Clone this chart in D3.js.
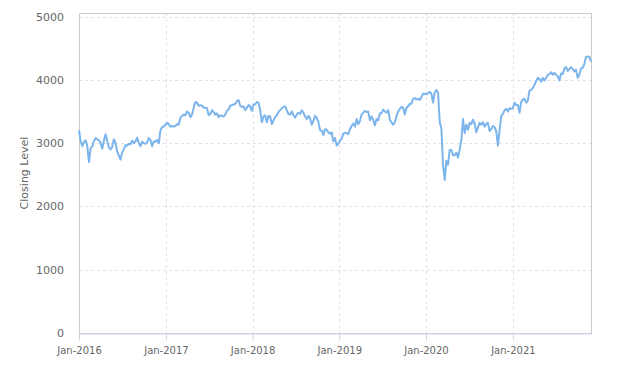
<!DOCTYPE html>
<html>
<head>
<meta charset="utf-8">
<script src="https://cdn.jsdelivr.net/npm/d3@7"></script>
<style>
  body { margin: 0; background: #fff; }
  svg text { font-family: "DejaVu Sans", sans-serif; }
</style>
</head>
<body>
<svg id="chart" width="631" height="366"></svg>
<script>
// weekly closes (Fridays)
const close2016 = [3200, 3030, 2950, 3020, 3045, 2950, 2700, 2920, 2950, 3030, 3080, 3060, 3045,
  3000, 2910, 3040, 3140, 3030, 2930, 2900, 2940, 3060, 3000, 2860, 2800, 2740, 2860, 2900, 2970,
  2960, 2990, 2980, 3040, 3000, 3030, 3085, 3000, 2950, 3020, 3000, 2990, 3010, 3080, 3050, 2950,
  3030, 3020, 3050, 3000, 3200, 3250, 3260, 3290];
const close2017 = [3320, 3300, 3260, 3270, 3260, 3270, 3300, 3290, 3400, 3430, 3450, 3440, 3500,
  3480, 3410, 3450, 3560, 3650, 3640, 3590, 3600, 3590, 3560, 3560, 3550, 3440, 3460, 3520, 3490,
  3450, 3470, 3410, 3440, 3430, 3420, 3450, 3510, 3530, 3590, 3600, 3610, 3620, 3660, 3680, 3590,
  3570, 3580, 3520, 3560, 3600, 3580, 3510];
const close2018 = [3610, 3610, 3650, 3640, 3520, 3330, 3420, 3440, 3330, 3430, 3420, 3300, 3360,
  3410, 3440, 3490, 3520, 3550, 3570, 3580, 3520, 3460, 3450, 3500, 3440, 3400, 3450, 3480, 3460,
  3520, 3480, 3420, 3380, 3430, 3390, 3290, 3350, 3430, 3400, 3340, 3200, 3200, 3130, 3220, 3210,
  3170, 3150, 3170, 3030, 3080, 2960, 2990];
const close2019 = [3040, 3070, 3150, 3160, 3160, 3140, 3220, 3270, 3310, 3260, 3380, 3300, 3350,
  3450, 3480, 3510, 3490, 3500, 3360, 3420, 3370, 3280, 3380, 3360, 3470, 3470, 3530, 3500, 3480,
  3520, 3370, 3330, 3290, 3330, 3430, 3500, 3540, 3570, 3560, 3450, 3560, 3580, 3620, 3620, 3700,
  3710, 3690, 3700, 3680, 3730, 3780, 3780];
const close2020 = [3770, 3790, 3810, 3780, 3640, 3800, 3840, 3800, 3330, 3230, 2650, 2420, 2720,
  2660, 2890, 2890, 2810, 2810, 2850, 2770, 2900, 3050, 3380, 3160, 3290, 3210, 3320, 3300, 3370,
  3310, 3170, 3250, 3320, 3290, 3330, 3260, 3300, 3320, 3190, 3220, 3270, 3250, 3190, 2960, 3200,
  3430, 3460, 3520, 3540, 3500, 3550, 3540];
const close2021 = [3550, 3640, 3600, 3600, 3480, 3650, 3690, 3700, 3640, 3670, 3830, 3840, 3870,
  3920, 3980, 4030, 4010, 3970, 4030, 3990, 4030, 4080, 4090, 4120, 4080, 4110, 4080, 4060, 3990,
  4100, 4090, 4180, 4200, 4140, 4170, 4200, 4170, 4130, 4160, 4030, 4080, 4180, 4190, 4250, 4360,
  4370, 4360, 4285];

const firstFriday = new Date(2016, 0, 1);
const yTicks = [0, 1000, 2000, 3000, 4000, 5000];
const xTicks = [2016, 2017, 2018, 2019, 2020, 2021].map(yr => new Date(yr, 0, 1));

const closes = [].concat(close2016, close2017, close2018, close2019, close2020, close2021);
const data = closes.map((v, i) => ({ date: d3.timeDay.offset(firstFriday, 7 * i), value: v }));

const svg = d3.select("#chart");
const plotLeft = 79, plotRight = 591, plotTop = 13, plotBottom = 333;

const x = d3.scaleTime()
  .domain(d3.extent(data, d => d.date))
  .range([plotLeft, plotRight]);
const y = d3.scaleLinear()
  .domain([0, 5000])
  .range([plotBottom, 16.5]);

// grid
svg.append("g")
  .selectAll("line")
  .data(yTicks.filter(t => t > 0))
  .enter().append("line")
  .attr("x1", plotLeft).attr("x2", plotRight)
  .attr("y1", d => Math.round(y(d)) + 0.5).attr("y2", d => Math.round(y(d)) + 0.5)
  .attr("stroke", "#e2e2e2").attr("stroke-dasharray", "3,3");

svg.append("g")
  .selectAll("line")
  .data(xTicks.slice(1))
  .enter().append("line")
  .attr("x1", d => Math.round(x(d)) + 0.5).attr("x2", d => Math.round(x(d)) + 0.5)
  .attr("y1", plotTop).attr("y2", plotBottom)
  .attr("stroke", "#e2e2e2").attr("stroke-dasharray", "3,3");

// plot border
svg.append("rect")
  .attr("x", plotLeft + 0.5).attr("y", plotTop + 0.5)
  .attr("width", plotRight - plotLeft).attr("height", plotBottom - plotTop)
  .attr("fill", "none").attr("stroke", "#cccccc");

// x axis
const xAxis = svg.append("g")
  .attr("transform", `translate(0,${plotBottom + 0.5})`)
  .call(d3.axisBottom(x).tickValues(xTicks).tickFormat(d3.timeFormat("%b-%Y"))
    .tickSize(7).tickSizeOuter(0).tickPadding(6));
xAxis.select(".domain").attr("stroke", "#ccd6eb");
xAxis.selectAll(".tick line").attr("stroke", "#ccd6eb");
xAxis.selectAll("text").attr("fill", "#666").style("font-size", "10px");

// y axis labels
svg.append("g")
  .selectAll("text")
  .data(yTicks)
  .enter().append("text")
  .attr("x", 64)
  .attr("y", d => y(d) + 4)
  .attr("text-anchor", "end")
  .attr("fill", "#666")
  .style("font-size", "11px")
  .text(d => d);

svg.append("text")
  .attr("transform", `translate(28,${(plotTop + plotBottom) / 2}) rotate(-90)`)
  .attr("text-anchor", "middle")
  .attr("fill", "#666")
  .style("font-size", "11px")
  .text("Closing Level");

// line
const line = d3.line()
  .x(d => x(d.date))
  .y(d => y(d.value));

svg.append("path")
  .datum(data)
  .attr("fill", "none")
  .attr("stroke", "#7cb5ec")
  .attr("stroke-width", 2)
  .attr("stroke-linejoin", "round")
  .attr("d", line);
</script>
</body>
</html>
